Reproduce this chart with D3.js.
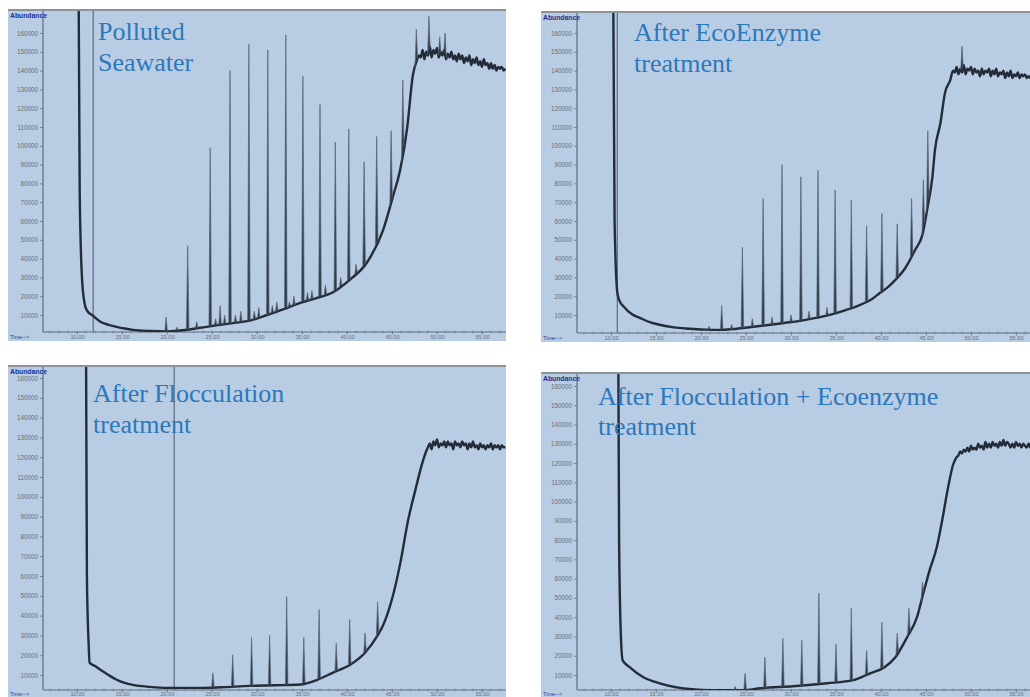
<!DOCTYPE html>
<html>
<head>
<meta charset="utf-8">
<script src="https://cdn.jsdelivr.net/npm/d3@7"></script>
<style>
  body { margin: 0; background: #fff; }
  svg { display: block; }
</style>
</head>
<body>
<svg id="chart" width="1030" height="697"></svg>
<script>
// ---------- data: retention time (min) / abundance ----------
const abundanceTicks = [10000,20000,30000,40000,50000,60000,70000,80000,90000,100000,110000,120000,130000,140000,150000,160000];
const timeTicks = [10,15,20,25,30,35,40,45,50,55];

// Polluted Seawater
const pollutedBase = [[10.05,300000],[10.3,75000],[10.55,30000],[10.85,16000],[11.1,12500],[11.8,9500],[12.6,6400],[13.5,4800],[14.4,3700],[15.3,2800],[16.2,2100],[18.1,1500],[20.0,1300],[22.0,2000],[23.7,3200],[25.9,4800],[27.5,5800],[29.2,7000],[31.1,10000],[32.9,13000],[34.8,16500],[36.6,19000],[38.4,22000],[40.3,28700],[42.2,37800],[44.0,55000],[45.1,73000],[45.9,87000],[46.7,110000],[47.3,137000],[47.8,146000]];
const pollutedTail = [148,147,151,146,150,148,153,147,151,149,152,147,150,148,151,146,149,147,150,146,148,145,149,146,148,144,147,145,148,143,146,144,147,143,145,142,146,143,144,141,144,141,143,140,142,141,142,140,141]; // x1000, every 0.2 min from 48.0
const pollutedPeaks = [[19.9,9000],[21.1,3500],[22.3,46800],[23.3,6500],[24.8,99000],[25.4,8000],[25.9,15000],[26.4,10000],[27.0,140000],[27.6,10000],[28.2,12000],[29.1,154000],[29.7,12000],[30.2,14000],[31.2,151000],[31.7,15000],[32.2,17000],[33.2,159000],[33.6,17000],[34.1,20000],[35.1,137000],[35.6,22000],[36.1,23000],[37.0,122000],[37.6,26000],[38.7,102000],[39.3,30000],[40.2,109000],[41.0,37000],[41.9,91500],[43.3,105000],[44.9,108000],[46.2,135000],[47.7,162000],[49.1,169000],[50.3,158000],[50.9,160000]];

// After EcoEnzyme treatment
const ecoBase = [[10.1,300000],[10.4,60000],[10.7,22000],[10.9,18000],[11.5,14000],[12.3,10500],[13.2,8500],[14.3,6200],[15.4,4800],[17.0,3400],[18.8,2700],[20.5,2200],[22.1,2100],[23.5,2500],[24.9,3200],[26.3,4000],[27.7,4800],[29.3,5800],[31.0,6900],[32.6,8300],[34.3,10100],[36.0,12500],[37.7,15400],[39.0,18500],[39.9,21800],[40.8,25000],[41.6,28700],[42.7,35000],[43.8,44700],[44.6,52600],[45.2,68000],[45.7,83000],[46.0,98000],[46.6,112000],[47.1,128000],[47.7,135000]];
const ecoTail = [140,139,142,138,141,139,143,138,141,140,142,138,141,139,140,137,141,138,140,139,141,137,140,138,141,137,139,138,140,136,139,137,140,136,138,137,139,136,138,137,138,136,137,136,137]; // from 48.0
const ecoPeaks = [[20.9,4000],[22.3,15000],[23.4,5000],[24.6,46000],[25.7,8000],[26.9,72000],[27.9,9000],[29.0,90000],[30.0,10000],[31.1,83500],[32.0,12000],[33.0,87000],[34.0,14000],[34.9,76500],[36.7,71000],[38.4,57500],[40.1,64000],[41.8,58500],[43.4,72000],[44.7,82000],[45.2,108000],[49.0,153000]];

// After Flocculation treatment
const flocBase = [[10.9,300000],[11.1,60000],[11.3,25000],[11.4,16200],[12.0,14500],[12.6,12600],[13.5,10000],[14.4,7600],[15.3,6000],[16.2,5000],[18.1,4000],[20.0,3500],[23.7,3500],[26.0,3800],[29.2,4500],[32.0,4800],[34.8,5200],[36.7,7600],[38.4,11100],[40.3,15000],[42.0,21200],[43.4,30000],[44.0,35000],[45.1,50000],[45.9,66000],[46.8,88400],[47.6,103500],[48.3,116000],[48.8,123000]];
const flocTail = [125,127,124,128,126,129,125,127,126,128,125,128,126,127,124,128,126,127,125,128,126,127,124,127,125,128,125,126,124,127,125,126,124,126,125,127,124,126,125,126,124,126,125,125]; // from 49.0
const flocPeaks = [[25.1,11100],[27.3,20200],[29.4,29000],[31.4,30000],[33.3,49500],[35.2,29000],[36.9,43000],[38.8,26000],[40.3,38000],[42.0,31300],[43.4,47000]];

// After Flocculation + Ecoenzyme treatment
const comboBase = [[10.7,300000],[10.9,80000],[11.1,30000],[11.3,17600],[12.1,14000],[13.6,8800],[15.4,5700],[17.3,3600],[19.0,2600],[21.0,2100],[24.7,2100],[26.6,3100],[30.2,4150],[34.0,5700],[36.9,7300],[38.8,10900],[40.4,14000],[41.6,19200],[42.9,29600],[44.0,40000],[44.7,52400],[45.4,64300],[46.2,76300],[46.8,90300],[47.4,106000],[48.0,119000],[48.4,123000]];
const comboTail = [124,126,125,127,126,128,126,129,127,128,127,130,128,129,127,131,128,130,128,131,129,130,128,131,129,132,129,131,130,128,130,128,131,129,130,128,130,129,128,130,128,129]; // from 48.6
const comboPeaks = [[23.8,4000],[24.9,10900],[27.1,19200],[29.1,29000],[31.2,28000],[33.1,52400],[35.0,26000],[36.7,44600],[38.4,22800],[40.1,37400],[41.8,31700],[43.1,44600],[44.6,58000]];

const titles = [["Polluted","Seawater"],["After EcoEnzyme","treatment"],["After Flocculation","treatment"],["After Flocculation + Ecoenzyme","treatment"]];
const tailStarts = [48.0, 48.0, 49.0, 48.6];
const markers = [11.8, 10.7, 20.8, null];

// ---------- layout ----------
const panels = [
  {x0:8,   y0:10,  x1:506,  y1:341, left:43,  bottom:332, labelDy:7, ty:[315,33],  tx:[77,482],   text:[98,40,71]},
  {x0:541, y0:12,  x1:1045, y1:342, left:577, bottom:333, labelDy:7, ty:[315,33],  tx:[611,1016], text:[634,41,72]},
  {x0:8,   y0:366, x1:506,  y1:700, left:43,  bottom:690, labelDy:6, ty:[675,378], tx:[77,482],   text:[93,402,433]},
  {x0:541, y0:373, x1:1045, y1:700, left:577, bottom:690, labelDy:6, ty:[675,386], tx:[611,1016], text:[598,405,435]}
];
const series = [
  {base:pollutedBase, tail:pollutedTail, peaks:pollutedPeaks},
  {base:ecoBase, tail:ecoTail, peaks:ecoPeaks},
  {base:flocBase, tail:flocTail, peaks:flocPeaks},
  {base:comboBase, tail:comboTail, peaks:comboPeaks}
];

const svg = d3.select('#chart');
const sans = 'Arial, Liberation Sans, sans-serif';

panels.forEach((p,i)=>{
  const s = series[i];
  const g = svg.append('g');
  const x = d3.scaleLinear().domain([10,55]).range(p.tx);
  const y = d3.scaleLinear().domain([10000,160000]).range(p.ty);

  g.append('rect')
    .attr('x',p.x0).attr('y',p.y0)
    .attr('width',p.x1-p.x0).attr('height',p.y1-p.y0)
    .attr('fill','#b8cce3');
  g.append('line')
    .attr('x1',p.x0).attr('x2',p.x1).attr('y1',p.y0).attr('y2',p.y0)
    .attr('stroke','#8d939b').attr('stroke-width',2);

  const clipId = 'clip'+i;
  svg.append('clipPath').attr('id',clipId)
    .append('rect')
    .attr('x',p.left).attr('y',p.y0+1)
    .attr('width',p.x1-p.left).attr('height',p.bottom-p.y0-1);

  // y axis
  const yAxis = g.append('g')
    .attr('transform',`translate(${p.left},0)`)
    .call(d3.axisLeft(y).tickValues(abundanceTicks).tickSize(3).tickFormat(d3.format('d')));
  yAxis.select('.domain').remove();
  yAxis.selectAll('line').attr('stroke','#7a8592');
  yAxis.selectAll('text')
    .attr('font-family',sans)
    .attr('font-size',6.3).attr('fill','#65707d').attr('dx',1);

  // x axis, minor ticks every minute
  const minor = d3.range(7,58);
  g.append('g')
    .attr('transform',`translate(0,${p.bottom})`)
    .selectAll('line').data(minor).join('line')
    .attr('x1',d=>x(d)).attr('x2',d=>x(d))
    .attr('y1',-1.5).attr('y2',1.5)
    .attr('stroke','#7a8592').attr('stroke-width',0.7);
  const xAxis = g.append('g')
    .attr('transform',`translate(0,${p.bottom})`)
    .call(d3.axisBottom(x).tickValues(timeTicks).tickSize(2.5).tickFormat(d3.format('.2f')));
  xAxis.select('.domain').remove();
  xAxis.selectAll('line').attr('stroke','#7a8592');
  xAxis.selectAll('text')
    .attr('font-family',sans)
    .attr('font-size',5.6).attr('fill','#65707d')
    .attr('y',p.labelDy).attr('dy',0);

  g.append('line')
    .attr('x1',p.left).attr('x2',p.left).attr('y1',p.y0+1).attr('y2',p.bottom)
    .attr('stroke','#4c5a6c').attr('stroke-width',1);
  g.append('line')
    .attr('x1',p.left).attr('x2',p.x1).attr('y1',p.bottom).attr('y2',p.bottom)
    .attr('stroke','#5c6a7c').attr('stroke-width',1);

  g.append('text')
    .attr('x',p.x0+2).attr('y',p.y0+8)
    .attr('font-family',sans)
    .attr('font-size',6.8).attr('font-weight','bold').attr('fill','#1d2f93')
    .text('Abundance');
  g.append('text')
    .attr('x',p.x0+2).attr('y',p.bottom+p.labelDy)
    .attr('font-family',sans)
    .attr('font-size',5.6).attr('fill','#2a3f9a')
    .text('Time-->');

  const plot = g.append('g').attr('clip-path',`url(#${clipId})`);

  if (markers[i]!=null){
    plot.append('line')
      .attr('x1',x(markers[i])).attr('x2',x(markers[i]))
      .attr('y1',p.y0).attr('y2',p.bottom)
      .attr('stroke','#5f6b7a').attr('stroke-width',1.2);
  }

  // full trace = baseline control points + noisy plateau
  const pts = s.base.concat(s.tail.map((v,k)=>[tailStarts[i]+k*0.2, v*1000]));
  const baseAt = d3.scaleLinear().domain(pts.map(d=>d[0])).range(pts.map(d=>d[1]));

  const line = d3.line().x(d=>x(d[0])).y(d=>y(d[1])).curve(d3.curveMonotoneX);
  plot.append('path')
    .attr('d',line(pts))
    .attr('fill','none')
    .attr('stroke','#232c38')
    .attr('stroke-width',2.4)
    .attr('stroke-linejoin','round');

  const spike = d3.line().x(d=>x(d[0])).y(d=>y(d[1]));
  plot.selectAll('path.peak')
    .data(s.peaks)
    .join('path')
    .attr('class','peak')
    .attr('d',d=>spike([[d[0]-0.14,baseAt(d[0]-0.14)],[d[0],d[1]],[d[0]+0.14,baseAt(d[0]+0.14)]]))
    .attr('fill','#2e3946')
    .attr('stroke','#5a6675')
    .attr('stroke-width',0.7);

  const t = g.append('text')
    .attr('font-family','Liberation Serif, Times New Roman, serif')
    .attr('font-size',26)
    .attr('fill','#2b78bb');
  t.append('tspan').attr('x',p.text[0]).attr('y',p.text[1]).text(titles[i][0]);
  t.append('tspan').attr('x',p.text[0]).attr('y',p.text[2]).text(titles[i][1]);
});
</script>
</body>
</html>
